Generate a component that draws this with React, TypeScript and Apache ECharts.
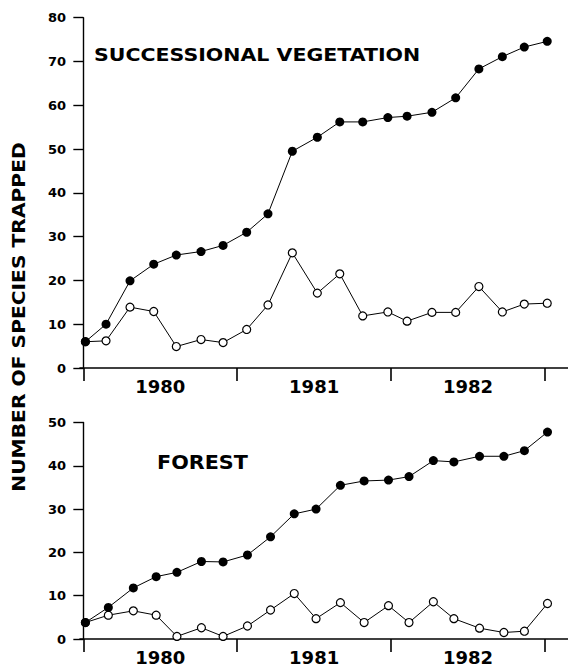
import React, { useEffect, useRef } from 'react';
import * as echarts from 'echarts';

// Tick labels
const YEAR_LABELS = ['1980', '1981', '1982'];
const YEAR_BOUNDARY_MONTHS = [0, 12, 24, 36];
const YEAR_LABEL_MONTHS = [6, 18, 30];

// Successional vegetation (months since start of 1980)
const SUCC_MONTHS = [0.16, 1.77, 3.64, 5.49, 7.25, 9.18, 10.9, 12.74, 14.4, 16.3, 18.25, 20.0, 21.79, 23.75, 25.25, 27.19, 29.04, 30.85, 32.68, 34.39, 36.18];
const SUCC_CUMULATIVE = [6.0, 10.0, 19.9, 23.7, 25.8, 26.6, 28.0, 31.0, 35.2, 49.5, 52.7, 56.2, 56.2, 57.2, 57.5, 58.4, 61.7, 68.3, 71.1, 73.3, 74.6];
const SUCC_PER_SAMPLE = [6.0, 6.2, 13.9, 12.9, 4.9, 6.5, 5.8, 8.8, 14.4, 26.3, 17.1, 21.5, 11.9, 12.8, 10.7, 12.7, 12.7, 18.6, 12.8, 14.6, 14.8];

// Forest
const FOREST_MONTHS = [0.16, 1.95, 3.9, 5.68, 7.3, 9.21, 10.9, 12.8, 14.6, 16.45, 18.15, 20.05, 21.9, 23.8, 25.4, 27.3, 28.9, 30.9, 32.8, 34.4, 36.2];
const FOREST_CUMULATIVE = [3.8, 7.3, 11.8, 14.4, 15.4, 17.9, 17.8, 19.4, 23.6, 28.9, 30.0, 35.5, 36.5, 36.7, 37.5, 41.2, 40.9, 42.2, 42.2, 43.5, 47.8];
const FOREST_PER_SAMPLE = [3.8, 5.5, 6.5, 5.5, 0.6, 2.6, 0.6, 3.0, 6.7, 10.5, 4.7, 8.4, 3.8, 7.7, 3.8, 8.6, 4.7, 2.5, 1.5, 1.8, 8.2];

const FONT = 'DejaVu Sans';

function zip(xs: number[], ys: number[]) {
  return xs.map((x, i) => [x, ys[i]]);
}

function xAxisFor(gridIndex: number) {
  return {
    type: 'value',
    gridIndex,
    min: -0.26,
    max: 37.8,
    axisLine: { show: true, onZero: false, lineStyle: { color: '#000', width: 1.6 } },
    axisTick: { show: true, customValues: YEAR_BOUNDARY_MONTHS, length: 13, inside: false, lineStyle: { color: '#000', width: 1.6 } },
    axisLabel: {
      show: true,
      customValues: YEAR_LABEL_MONTHS,
      margin: 9,
      color: '#000',
      fontSize: 18,
      fontWeight: 'bold',
      fontFamily: FONT,
      formatter: (v: number) => {
        const i = YEAR_LABEL_MONTHS.indexOf(Math.round(v));
        return i >= 0 ? YEAR_LABELS[i] : '';
      },
    },
    splitLine: { show: false },
  };
}

function yAxisFor(gridIndex: number, max: number) {
  return {
    type: 'value',
    gridIndex,
    min: 0,
    max,
    interval: 10,
    axisLine: { show: true, lineStyle: { color: '#000', width: 1.4 } },
    axisTick: { show: true, length: 10, inside: false, lineStyle: { color: '#000', width: 1.4 } },
    axisLabel: { color: '#000', fontSize: 13, fontWeight: 'bold', fontFamily: FONT, margin: 14 },
    splitLine: { show: false },
  };
}

function openSeries(idx: number, data: number[][]) {
  return {
    type: 'line',
    xAxisIndex: idx,
    yAxisIndex: idx,
    data,
    symbol: 'circle',
    symbolSize: 8,
    lineStyle: { color: '#000', width: 1 },
    itemStyle: { color: '#fff', borderColor: '#000', borderWidth: 1.2 },
    z: 2,
  };
}

function filledSeries(idx: number, data: number[][]) {
  return {
    type: 'line',
    xAxisIndex: idx,
    yAxisIndex: idx,
    data,
    symbol: 'circle',
    symbolSize: 9,
    lineStyle: { color: '#000', width: 1 },
    itemStyle: { color: '#000', borderColor: '#000', borderWidth: 0 },
    z: 3,
  };
}

export default function App() {
  const ref = useRef<HTMLDivElement>(null);
  useEffect(() => {
    if (!ref.current) return;
    const chart = echarts.init(ref.current, null, { renderer: 'svg' });
    chart.setOption({
      animation: false,
      backgroundColor: '#fff',
      grid: [
        { left: 80, right: 0, top: 17.7, height: 350.3 },
        { left: 80, right: 0, top: 422.5, height: 216.5 },
      ],
      xAxis: [xAxisFor(0), xAxisFor(1)],
      yAxis: [yAxisFor(0, 80), yAxisFor(1, 50)],
      series: [
        openSeries(0, zip(SUCC_MONTHS, SUCC_PER_SAMPLE)),
        filledSeries(0, zip(SUCC_MONTHS, SUCC_CUMULATIVE)),
        openSeries(1, zip(FOREST_MONTHS, FOREST_PER_SAMPLE)),
        filledSeries(1, zip(FOREST_MONTHS, FOREST_CUMULATIVE)),
      ],
      graphic: [
        {
          type: 'text',
          x: 94,
          y: 55,
          scaleX: 1.14,
          style: { text: 'SUCCESSIONAL VEGETATION', fill: '#000', fontSize: 18, fontWeight: 'bold', fontFamily: FONT, align: 'left', verticalAlign: 'middle' },
        },
        {
          type: 'text',
          x: 157,
          y: 462.5,
          scaleX: 1.09,
          style: { text: 'FOREST', fill: '#000', fontSize: 19, fontWeight: 'bold', fontFamily: FONT, align: 'left', verticalAlign: 'middle' },
        },
        {
          type: 'text',
          x: 19,
          y: 317,
          rotation: Math.PI / 2,
          scaleX: 1.19,
          style: { text: 'NUMBER OF SPECIES TRAPPED', fill: '#000', fontSize: 17, fontWeight: 'bold', fontFamily: FONT, align: 'center', verticalAlign: 'middle' },
        },
      ],
    });
    return () => chart.dispose();
  }, []);
  return <div ref={ref} style={{ position: 'fixed', left: 0, top: 0, width: 568, height: 666 }} />;
}
